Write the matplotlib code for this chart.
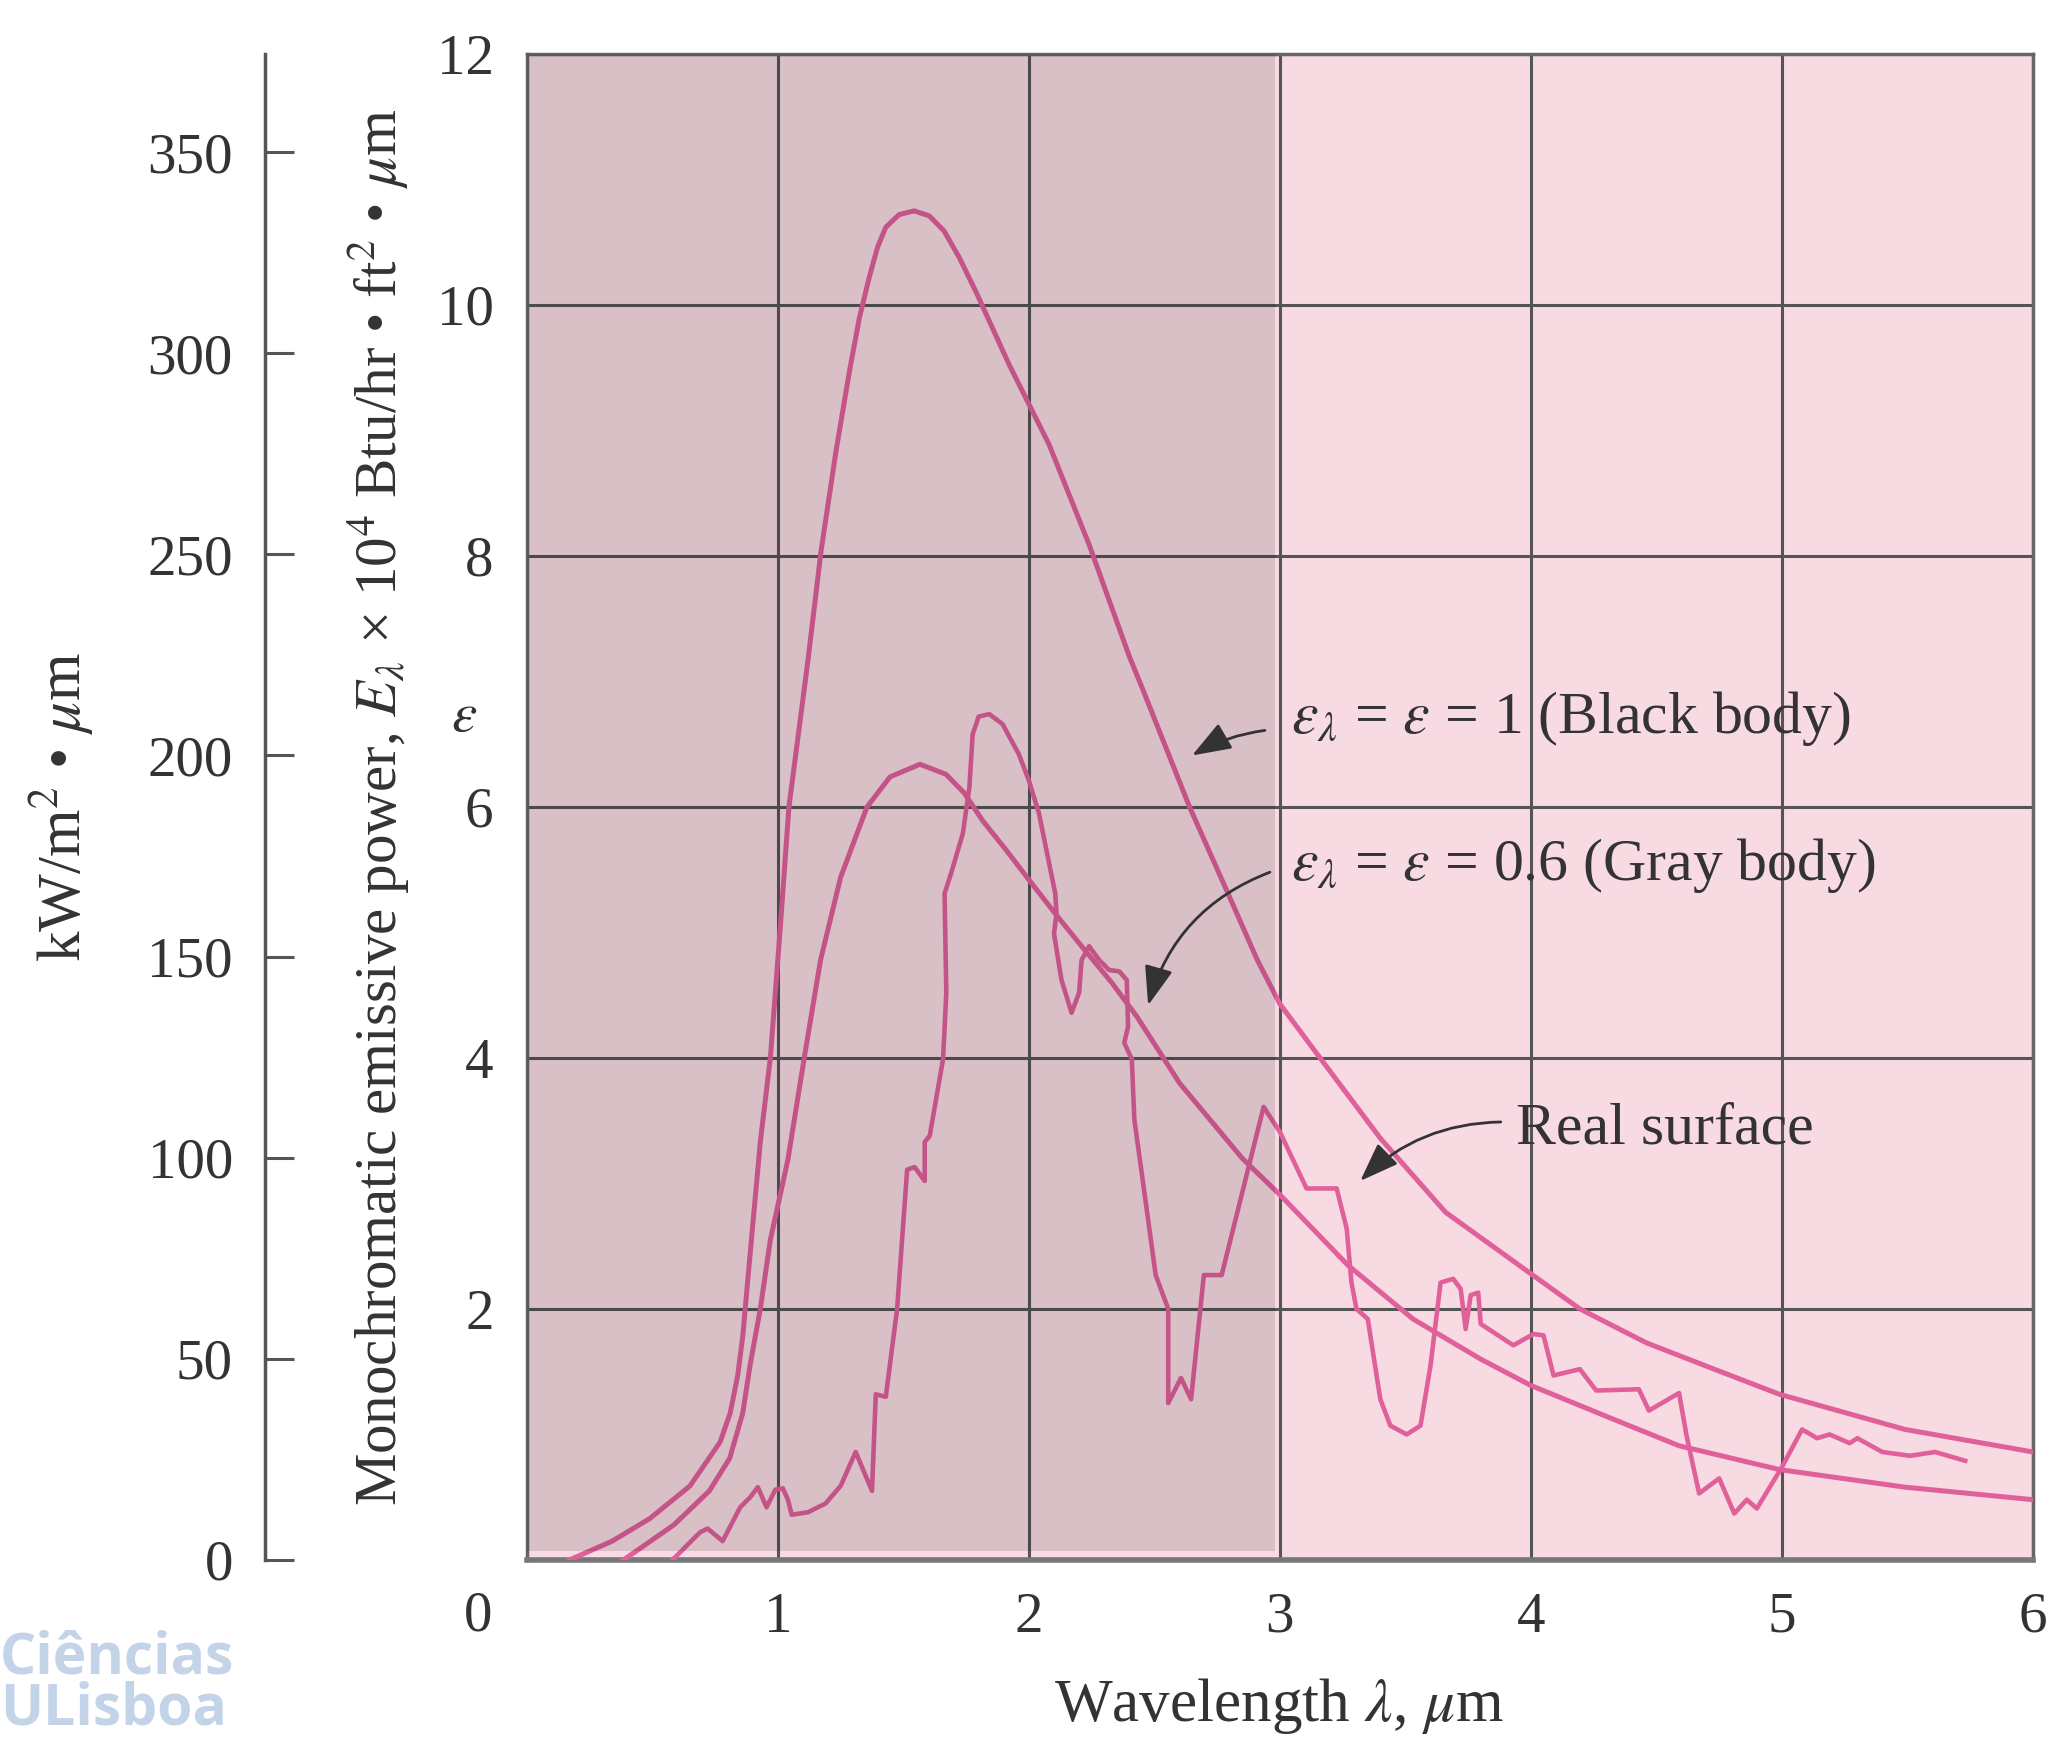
import matplotlib.pyplot as plt
from matplotlib.patches import Rectangle

plt.rcParams['font.family'] = ['Liberation Serif', 'DejaVu Serif']
plt.rcParams['mathtext.fontset'] = 'stix'

# wavelength (um) vs emissive power (x 10^4 Btu/hr ft2 um)
black_x = [0.17, 0.34, 0.49, 0.65, 0.77, 0.81, 0.84, 0.86, 0.88, 0.90, 0.93, 0.97, 1.01, 1.044,
           1.12, 1.172, 1.232, 1.285, 1.325, 1.364, 1.397, 1.43, 1.483, 1.543, 1.603, 1.662,
           1.722, 1.788, 1.854, 1.92, 2.00, 2.08, 2.16, 2.24, 2.40, 2.455, 2.64, 2.80, 2.91,
           3.00, 3.16, 3.40, 3.66, 4.00, 4.195, 4.46, 4.73, 4.99, 5.49, 6.00]
black_y = [0.0, 0.15, 0.33, 0.59, 0.94, 1.17, 1.47, 1.78, 2.23, 2.67, 3.33, 4.0, 5.05, 6.0,
           7.17, 8.04, 8.84, 9.47, 9.9, 10.22, 10.46, 10.62, 10.72, 10.75, 10.71, 10.59,
           10.38, 10.11, 9.82, 9.53, 9.21, 8.89, 8.49, 8.09, 7.2, 6.93, 6.0, 5.28, 4.78,
           4.43, 4.0, 3.36, 2.77, 2.28, 2.0, 1.73, 1.52, 1.32, 1.04, 0.86]

gray_x = [0.385, 0.586, 0.727, 0.808, 0.86, 0.89, 0.93, 0.97, 1.04, 1.105, 1.17, 1.25, 1.355,
          1.447, 1.566, 1.67, 1.743, 1.816, 1.908, 2.0, 2.105, 2.21, 2.33, 2.43, 2.60, 2.85,
          3.0, 3.27, 3.53, 3.80, 4.0, 4.33, 4.59, 4.99, 5.49, 6.0]
gray_y = [0.0, 0.28, 0.55, 0.81, 1.17, 1.56, 2.0, 2.55, 3.19, 4.0, 4.78, 5.44, 6.0,
          6.24, 6.34, 6.26, 6.11, 5.89, 5.66, 5.42, 5.15, 4.89, 4.60, 4.33, 3.80, 3.2,
          2.91, 2.35, 1.92, 1.60, 1.39, 1.12, 0.91, 0.72, 0.58, 0.48]

real_x = [0.58, 0.69, 0.72, 0.78, 0.85, 0.89, 0.92, 0.955, 0.99, 1.02, 1.04, 1.055, 1.12, 1.19,
          1.25, 1.31, 1.375, 1.39, 1.43, 1.475, 1.515, 1.545, 1.585, 1.585, 1.605, 1.658, 1.671,
          1.664, 1.69, 1.737, 1.763, 1.776, 1.80, 1.842, 1.895, 1.96, 2.0, 2.04, 2.105, 2.11,
          2.10, 2.13, 2.17, 2.20, 2.21, 2.24, 2.28, 2.32, 2.36, 2.39, 2.395, 2.38, 2.41, 2.42,
          2.46, 2.505, 2.555, 2.555, 2.606, 2.646, 2.697, 2.768, 2.935, 3.0, 3.106, 3.226,
          3.266, 3.285, 3.305, 3.35, 3.40, 3.44, 3.505, 3.56, 3.60, 3.64, 3.69, 3.72, 3.74,
          3.76, 3.79, 3.80, 3.93, 4.01, 4.05, 4.09, 4.195, 4.26, 4.43, 4.47, 4.59, 4.62, 4.67,
          4.75, 4.81, 4.86, 4.90, 5.0, 5.08, 5.14, 5.19, 5.27, 5.30, 5.40, 5.51, 5.61, 5.73]
real_y = [0.0, 0.22, 0.25, 0.15, 0.42, 0.50, 0.58, 0.42, 0.56, 0.57, 0.48, 0.36, 0.38, 0.45,
          0.59, 0.86, 0.55, 1.32, 1.30, 2.0, 3.11, 3.13, 3.02, 3.33, 3.38, 3.99, 4.52,
          5.31, 5.47, 5.79, 6.16, 6.58, 6.72, 6.74, 6.66, 6.42, 6.21, 5.95, 5.31, 5.15,
          4.99, 4.62, 4.36, 4.52, 4.78, 4.89, 4.78, 4.70, 4.69, 4.62, 4.25, 4.12, 3.99, 3.51,
          2.93, 2.27, 2.0, 1.25, 1.45, 1.28, 2.27, 2.27, 3.61, 3.41, 2.96, 2.96,
          2.64, 2.21, 2.0, 1.92, 1.28, 1.07, 1.0, 1.07, 1.55, 2.21, 2.24, 2.16, 1.84,
          2.11, 2.13, 1.88, 1.71, 1.80, 1.79, 1.47, 1.52, 1.35, 1.36, 1.19, 1.33, 0.99, 0.53,
          0.65, 0.37, 0.48, 0.41, 0.74, 1.04, 0.97, 1.0, 0.93, 0.97, 0.86, 0.83, 0.86, 0.79]

x_ticks = [0, 1, 2, 3, 4, 5, 6]
x_labels = ['', '1', '2', '3', '4', '5', '6']
y_ticks = [0, 2, 4, 6, 8, 10, 12]
y_labels = ['', '2', '4', '6', '8', '10', '12']
kw_ticks = [0, 50, 100, 150, 200, 250, 300, 350]

curve_color = '#E0609A'
text_color = '#333333'
fs = 41

fig = plt.figure(figsize=(20.5, 17.41), dpi=100)
ax = fig.add_axes([0.257, 0.104, 0.7347, 0.865])
ax.set_xlim(0, 6)
ax.set_ylim(0, 12)
ax.set_facecolor('#F8DAE2')

ax.set_xticks(x_ticks)
ax.set_xticklabels(x_labels)
ax.set_yticks(y_ticks)
ax.set_yticklabels(y_labels)
ax.tick_params(length=0, labelsize=fs, colors=text_color)
ax.tick_params(axis='y', pad=24)
ax.tick_params(axis='x', pad=23)
ax.grid(True, color='#555555', lw=2.2)
ax.set_axisbelow(True)
for s in ax.spines.values():
    s.set_color('#666666')
    s.set_linewidth(2.5)
ax.spines['bottom'].set_linewidth(4)
ax.spines['bottom'].set_color('#777777')

# curves
ax.plot(black_x, black_y, color=curve_color, lw=3.6, zorder=3, solid_joinstyle='round')
ax.plot(gray_x, gray_y, color=curve_color, lw=3.6, zorder=3, solid_joinstyle='round')
ax.plot(real_x, real_y, color=curve_color, lw=3.3, zorder=3, solid_joinstyle='round')

# darker shaded band 0-3 um
ax.add_patch(Rectangle((0, 0.07), 2.98, 11.93, facecolor='black', alpha=0.12, lw=0, zorder=4))

# annotations
arrow = dict(arrowstyle='-|>,head_length=0.6,head_width=0.22', color='#333333', lw=2,
             mutation_scale=40, shrinkA=0, shrinkB=0)
ax.annotate('', xy=(2.65, 6.41), xytext=(2.94, 6.61),
            arrowprops=dict(arrow, connectionstyle='arc3,rad=0.1'), zorder=6)
ax.annotate('', xy=(2.475, 4.42), xytext=(2.96, 5.48),
            arrowprops=dict(arrow, connectionstyle='arc3,rad=0.25'), zorder=6)
ax.annotate('', xy=(3.32, 3.02), xytext=(3.88, 3.49),
            arrowprops=dict(arrow, connectionstyle='arc3,rad=0.2'), zorder=6)
ax.text(3.046, 6.59, r'$\varepsilon_\lambda$ = $\varepsilon$ = 1 (Black body)', fontsize=43,
        va='baseline', color=text_color, zorder=6)
ax.text(3.046, 5.42, r'$\varepsilon_\lambda$ = $\varepsilon$ = 0.6 (Gray body)', fontsize=43,
        va='baseline', color=text_color, zorder=6)
ax.text(3.94, 3.32, 'Real surface', fontsize=43, va='baseline', color=text_color, zorder=6)

# axis texts
ax.text(-0.25, 6.72, r'$\varepsilon$', fontsize=fs, ha='center', va='center', color=text_color)
ax.text(-0.195, -0.454, '0', fontsize=fs, ha='center', va='center', color=text_color)
ax.text(-0.098, 0.5,
        r'Monochromatic emissive power, $E_\lambda$ × 10$^4$ Btu/hr • ft$^2$ • $\mu$m',
        transform=ax.transAxes, rotation=90, ha='center', va='center', fontsize=42.5,
        color=text_color)
ax.text(0.4995, -0.097, r'Wavelength $\lambda$, $\mu$m', transform=ax.transAxes,
        ha='center', va='center', fontsize=44, color=text_color)

# second scale in SI units
sec = ax.secondary_yaxis(-0.174, functions=(lambda e: e * 31.2, lambda k: k / 31.2))
sec.set_yticks(kw_ticks)
sec.tick_params(direction='in', length=21, width=2.2, color='#555555', labelsize=fs,
                labelcolor=text_color, pad=23)
sec.spines['left'].set_color('#555555')
sec.spines['left'].set_linewidth(2.5)
ax.text(-0.309, 0.5, r'kW/m$^2$ • $\mu$m', transform=ax.transAxes, rotation=90,
        ha='center', va='center', fontsize=44, color=text_color)

# watermark
fig.text(0.0, 0.064, 'Ciências\nULisboa', color='#C3D3E8', fontsize=41, fontweight='bold',
         family='Open Sans', ha='left', va='top', linespacing=0.85)

fig.savefig('out.png', dpi=100)
